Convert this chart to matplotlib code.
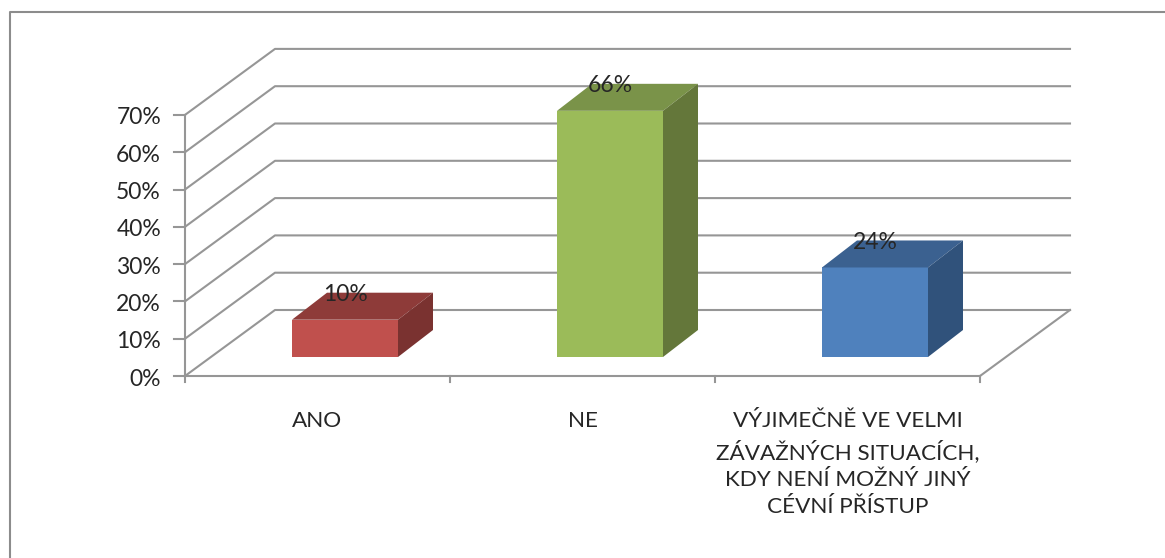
## Clustered 3D-look column chart drawn with plain polygons

import matplotlib
matplotlib.use('Agg')
import matplotlib.pyplot as plt
from matplotlib.patches import Polygon, Rectangle

plt.rcParams['font.family'] = ['Lato', 'DejaVu Sans']

# Data

categories = ['ANO', 'NE', 'VÝJIMEČNĚ VE VELMI\nZÁVAŽNÝCH SITUACÍCH,\nKDY NENÍ MOŽNÝ JINÝ\nCÉVNÍ PŘÍSTUP']
values = [10, 66, 24]
value_labels = ['10%', '66%', '24%']
y_ticks = [0, 10, 20, 30, 40, 50, 60, 70]
y_tick_labels = ['0%', '10%', '20%', '30%', '40%', '50%', '60%', '70%']

front_colors = ['#C0504D', '#9BBB59', '#4F81BD']
top_colors = ['#8E3B39', '#7A9349', '#3B6190']
side_colors = ['#7A3230', '#64773A', '#30527B']

# Layout (pixels of the figure and the scale that follows from them)

W, H = 1165, 558
cat_px = 265
pct_px = 3.73
x0_px, y0_px = 185, 376

GRID = '#969696'
TEXT = '#262626'
LW = 1.5

depth_x = 90 / cat_px
depth_y = 66 / pct_px
bar_w = 106 / cat_px
bar_x = 107 / cat_px
bar_lift = 19 / pct_px
bar_dx = 35 / cat_px
bar_dy = 27 / pct_px

fig = plt.figure(figsize=(W / 100, H / 100), dpi=100)
ax = fig.add_axes([0, 0, 1, 1])
ax.set_xlim(-x0_px / cat_px, (W - x0_px) / cat_px)
ax.set_ylim(-(H - y0_px) / pct_px, y0_px / pct_px)
ax.axis('off')

n = len(categories)
top = y_ticks[-1]

# Outer frame

ax.plot([(10 - x0_px) / cat_px, (10 - x0_px) / cat_px, (W - x0_px) / cat_px],
        [-(H - y0_px) / pct_px, (y0_px - 12) / pct_px, (y0_px - 12) / pct_px],
        color='#8C8C8C', lw=LW, zorder=1)

# Walls and gridlines

for t, lab in zip(y_ticks, y_tick_labels):
    ax.plot([0, depth_x, n + depth_x], [t, t + depth_y, t + depth_y], color=GRID, lw=LW, zorder=1)
    ax.plot([-11 / cat_px, 0], [t, t], color=GRID, lw=LW, zorder=1)
    ax.text(-24 / cat_px, t - 3 / pct_px, lab, ha='right', va='center', fontsize=16.5, color=TEXT, zorder=5)

ax.plot([0, 0], [-1.5, top], color=GRID, lw=LW, zorder=1)
ax.plot([0, n], [0, 0], color=GRID, lw=LW, zorder=1)
ax.plot([n, n + depth_x], [0, depth_y], color=GRID, lw=LW, zorder=1)
for i in range(1, n + 1):
    ax.plot([i, i], [-1.5, 0], color=GRID, lw=LW, zorder=1)

# Bars

for i, v in enumerate(values):
    x = i + bar_x
    b = bar_lift
    ax.add_patch(Rectangle((x, b), bar_w, v, fc=front_colors[i], ec='none', zorder=3))
    ax.add_patch(Polygon([(x, b + v), (x + bar_w, b + v),
                          (x + bar_w + bar_dx, b + v + bar_dy), (x + bar_dx, b + v + bar_dy)],
                         fc=top_colors[i], ec='none', zorder=3))
    ax.add_patch(Polygon([(x + bar_w, b), (x + bar_w + bar_dx, b + bar_dy),
                          (x + bar_w + bar_dx, b + v + bar_dy), (x + bar_w, b + v)],
                         fc=side_colors[i], ec='none', zorder=3))
    ax.text(x + bar_w / 2, b + v + bar_dy - 0.5, value_labels[i],
            ha='center', va='center', fontsize=16.5, color=TEXT, zorder=5)

# Category labels

label_x = [0.5, 1.5, 2.5]
for i, c in enumerate(categories):
    ax.text(label_x[i], -(411 - y0_px) / pct_px, c, ha='center', va='top',
            fontsize=16.2, color=TEXT, linespacing=1.46, zorder=5)

fig.savefig('out.png', dpi=100, facecolor='white')
